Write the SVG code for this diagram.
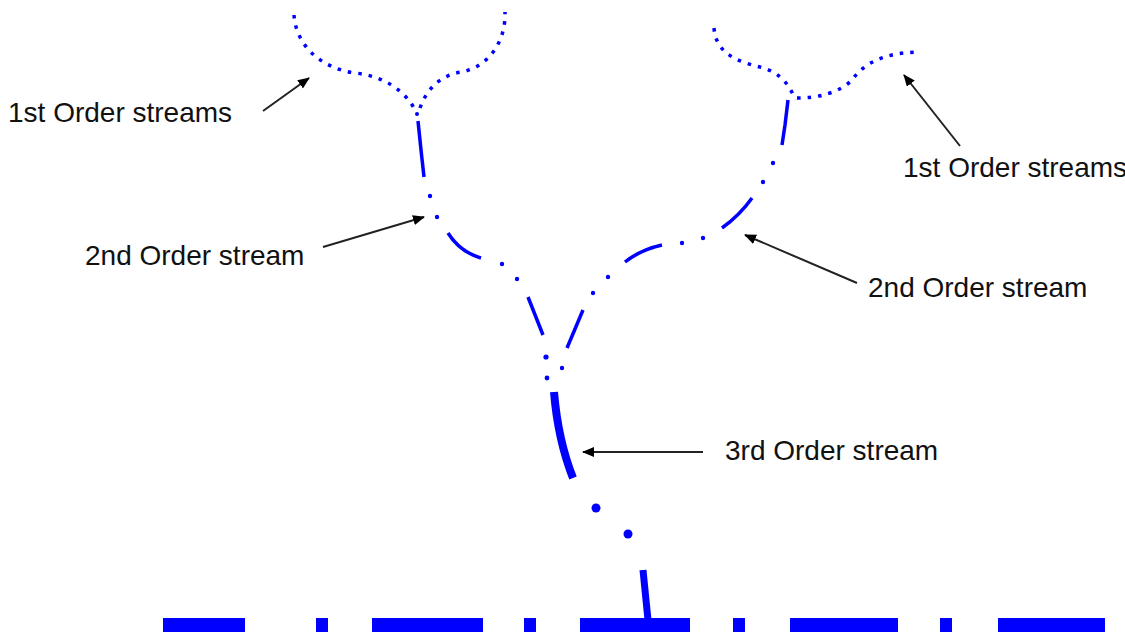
<svg xmlns="http://www.w3.org/2000/svg" width="1125" height="635" viewBox="0 0 1125 635">
<defs>
<style>
.o1{fill:none;stroke:#0000ff;stroke-width:3.5;stroke-dasharray:3.5 7;}
.o2{fill:none;stroke:#0000ff;stroke-width:3.5;stroke-linecap:butt;}
.dot{fill:#0000ff;}
.o3{fill:none;stroke:#0000ff;stroke-width:8;}
.base{fill:none;stroke:#0000ff;stroke-width:14;}
.lbl{font-family:"Liberation Sans",Arial,sans-serif;font-size:28px;fill:#111;}
.arr{fill:none;stroke:#222;stroke-width:2;marker-end:url(#ah);}
</style>
<marker id="ah" viewBox="0 0 12 10" refX="11" refY="5" markerWidth="12" markerHeight="10" markerUnits="userSpaceOnUse" orient="auto">
<path d="M0,0 L12,5 L0,10 Z" fill="#000"/>
</marker>
</defs>
<g id="streams-1st-left">
<path class="o1" d="M294,15 C296,45 320,68 355,73 C385,76 405,92 414,108"/>
<path class="o1" d="M420,108 C428,85 445,74 462,72 C490,66 506,40 505,12"/>
</g>
<g id="streams-1st-right">
<path class="o1" d="M714,28 C716,55 740,62 760,67 C780,72 790,85 795,100"/>
<path class="o1" d="M797,98 C820,98 840,92 852,80 C865,62 885,53 918,52"/>
</g>
<g id="stream-2nd-left">
<circle class="dot" cx="417" cy="114" r="2"/>
<path class="o2" d="M418,121 L421,150 L424,177"/>
<circle class="dot" cx="430" cy="196" r="2.2"/>
<circle class="dot" cx="437" cy="217" r="2.2"/>
<path class="o2" d="M448,233 Q460,252 481,258"/>
<circle class="dot" cx="502" cy="264" r="2.2"/>
<circle class="dot" cx="517" cy="279" r="2.2"/>
<path class="o2" d="M528,297 L543,335"/>
<circle class="dot" cx="546" cy="357" r="2.6"/>
<circle class="dot" cx="547" cy="378" r="2.4"/>
</g>
<g id="stream-2nd-right">
<path class="o2" d="M788,100 L785,125 L782,145"/>
<circle class="dot" cx="773" cy="163" r="2.2"/>
<circle class="dot" cx="763" cy="182" r="2.2"/>
<path class="o2" d="M752,198 Q740,215 722,228"/>
<circle class="dot" cx="703" cy="238" r="2.2"/>
<circle class="dot" cx="682" cy="243" r="2.2"/>
<path class="o2" d="M662,245 Q640,250 625,262"/>
<circle class="dot" cx="608" cy="277" r="2.2"/>
<circle class="dot" cx="593" cy="293" r="2.2"/>
<path class="o2" d="M583,310 L567,348"/>
<circle class="dot" cx="562" cy="368" r="2.2"/>
</g>
<g id="stream-3rd">
<path class="o3" d="M554,392 Q558,440 573,478"/>
<circle class="dot" cx="596" cy="508" r="4.5"/>
<circle class="dot" cx="628" cy="534" r="4.5"/>
<path class="o3" d="M643,570 L648,620" style="stroke-width:7"/>
</g>
<g id="baseline">
<path class="base" d="M163,625 H245 M316,625 H328 M372,625 H483 M524,625 H536 M580,625 H690 M733,625 H745 M790,625 H898 M940,625 H952 M998,625 H1105"/>
</g>
<g id="connectors">
<path class="arr" d="M263,111 L309,78"/>
<path class="arr" d="M960,146 L904,75"/>
<path class="arr" d="M323,247 L424,217"/>
<path class="arr" d="M857,283 L745,235"/>
<path class="arr" d="M703,452 L583,452"/>
</g>
<g id="labels">
<text class="lbl" x="8" y="122">1st Order streams</text>
<text class="lbl" x="85" y="265">2nd Order stream</text>
<text class="lbl" x="903" y="177">1st Order streams</text>
<text class="lbl" x="868" y="297">2nd Order stream</text>
<text class="lbl" x="725" y="460">3rd Order stream</text>
</g>
</svg>
